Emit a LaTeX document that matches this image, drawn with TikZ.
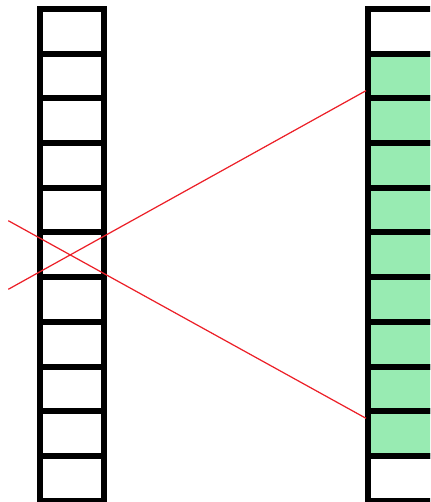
\documentclass[tikz,border=0pt]{standalone}
\usetikzlibrary{positioning}
\definecolor{cellgreen}{RGB}{152,235,178}
\definecolor{cutred}{RGB}{236,32,40}
\begin{document}
\begin{tikzpicture}[x=0.02cm,y=-0.02cm]
  \tikzset{
    cell/.style={draw=black,line width=0.12cm,minimum width=1.3cm,minimum height=0.894cm,inner sep=0pt,outer sep=0pt},
    wide/.style={cell,minimum width=1.6cm},
    full/.style={wide,fill=cellgreen},
    cut/.style={cutred,line width=0.7pt}
  }
  \clip (0,0) rectangle (430,502);
  %LEFT COLUMN
  \node[cell] (L1) at (72,31.35) {};
  \foreach \i [remember=\i as \j (initially 1)] in {2,...,11}{
    \node[cell,below=0pt of L\j] (L\i) {};
  }
  %RIGHT COLUMN
  \node[wide] (R1) at (408,31.35) {};
  \foreach \i [remember=\i as \j (initially 1)] in {2,...,10}{
    \node[full,below=0pt of R\j] (R\i) {};
  }
  \node[wide,below=0pt of R10] (R11) {};
  %CROSSING LINES
  \coordinate (a1) at (8.3,220.7);
  \coordinate (a2) at (8.3,289.3);
  \coordinate (b1) at (366,418.3);
  \coordinate (b2) at (366,90.7);
  \draw[cut] (a1) -- (b1);
  \draw[cut] (a2) -- (b2);
\end{tikzpicture}
\end{document}
